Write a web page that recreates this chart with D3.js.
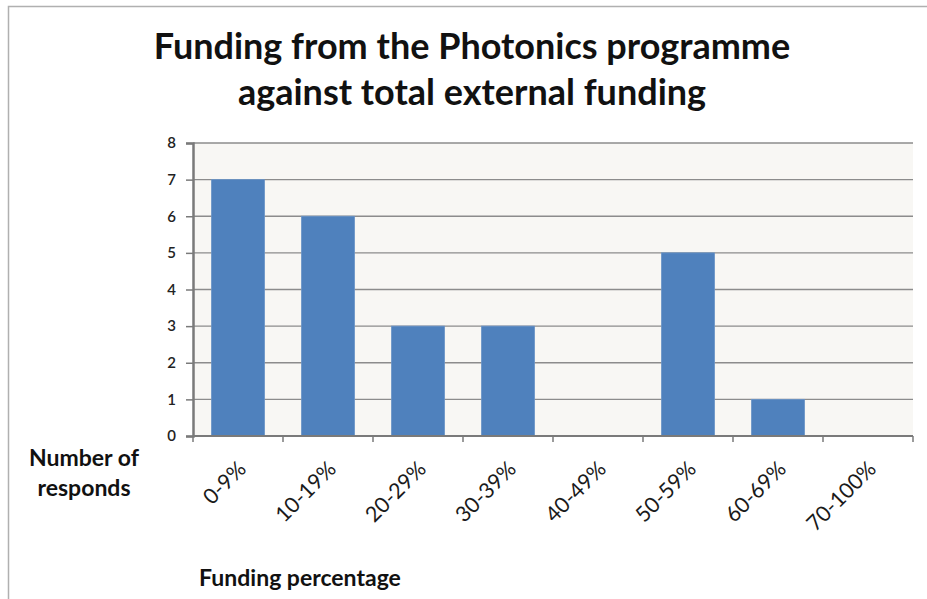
<!DOCTYPE html>
<html><head><meta charset="utf-8">
<script src="https://cdn.jsdelivr.net/npm/d3@7"></script>
<style>body{margin:0;background:#fff;}svg{display:block;}</style>
</head><body>
<script>
const categories = ["0-9%","10-19%","20-29%","30-39%","40-49%","50-59%","60-69%","70-100%"];
const values = [7,6,3,3,0,5,1,0];
const yTicks = [0,1,2,3,4,5,6,7,8];
const titleLines = ["Funding from the Photonics programme","against total external funding"];
const yTitleLines = ["Number of","responds"];
const xTitle = "Funding percentage";

(function(){
const W=927,H=599;
const font = "Lato, 'Open Sans', sans-serif";
const svg=d3.select("body").append("svg").attr("width",W).attr("height",H);
svg.append("rect").attr("width",W).attr("height",H).attr("fill","#fff");
svg.append("path").attr("d","M8.5,"+H+" V6.5 H"+W).attr("fill","none").attr("stroke","#b0b0b0").attr("stroke-width",1.5);

const pL=193,pR=913,pT=143,pB=436;
const x=d3.scaleBand().domain(categories).range([pL,pR]).paddingInner(0.41).paddingOuter(0.205);
const xb=d3.scaleBand().domain(categories).range([pL,pR]);
const y=d3.scaleLinear().domain([0,8]).range([pB,pT]);

svg.append("rect").attr("x",pL).attr("y",pT).attr("width",pR-pL).attr("height",pB-pT).attr("fill","#f8f7f4");

svg.append("g").selectAll("line").data(yTicks.filter(d=>d>0)).join("line")
  .attr("x1",pL).attr("x2",pR).attr("y1",d=>y(d)).attr("y2",d=>y(d))
  .attr("stroke","#8c8c8c").attr("stroke-width",1.3);

svg.append("g").selectAll("rect").data(values).join("rect")
  .attr("x",(d,i)=>x(categories[i])).attr("width",x.bandwidth())
  .attr("y",d=>y(d)).attr("height",d=>y(0)-y(d))
  .attr("fill","#4f81bd").attr("stroke","#6b95c8").attr("stroke-width",0.8);

const ya=svg.append("g").attr("transform",`translate(${pL},0)`).call(d3.axisLeft(y).tickValues(yTicks).tickSize(7).tickPadding(10));
ya.select(".domain").attr("stroke","#7a7a7a").attr("stroke-width",2.5);
ya.selectAll(".tick line").attr("stroke","#7a7a7a").attr("stroke-width",1.5);
ya.selectAll("text").attr("font-family",font).attr("font-size",15).attr("font-weight",600).attr("fill","#222");

const xa=svg.append("g").attr("transform",`translate(0,${pB})`);
xa.append("line").attr("x1",pL).attr("x2",pR).attr("stroke","#7a7a7a").attr("stroke-width",2);
xa.selectAll("line.t").data(categories.concat(["_end"])).join("line").attr("class","t")
  .attr("x1",(d,i)=>pL+i*xb.step()).attr("x2",(d,i)=>pL+i*xb.step()).attr("y1",0).attr("y2",6)
  .attr("stroke","#7a7a7a").attr("stroke-width",1.5);
xa.selectAll("text").data(categories).join("text")
  .attr("transform",d=>`translate(${xb(d)+xb.bandwidth()/2+1},${26}) rotate(-45)`)
  .attr("text-anchor","end").attr("dy","0.55em")
  .attr("font-family",font).attr("font-size",21.5).attr("fill","#1a1a1a").text(d=>d);

svg.append("g").selectAll("text").data(titleLines).join("text")
  .attr("x",472).attr("y",(d,i)=>59+i*46).attr("text-anchor","middle")
  .attr("font-family",font).attr("font-weight","bold").attr("font-size",36).attr("fill","#111").text(d=>d);
svg.append("g").selectAll("text").data(yTitleLines).join("text")
  .attr("x",84).attr("y",(d,i)=>466+i*30).attr("text-anchor","middle")
  .attr("font-family",font).attr("font-weight","bold").attr("font-size",23).attr("fill","#111").text(d=>d);
svg.append("text").attr("x",300).attr("y",586).attr("text-anchor","middle")
  .attr("font-family",font).attr("font-weight","bold").attr("font-size",23).attr("fill","#111").text(xTitle);
})();
</script>
</body></html>
